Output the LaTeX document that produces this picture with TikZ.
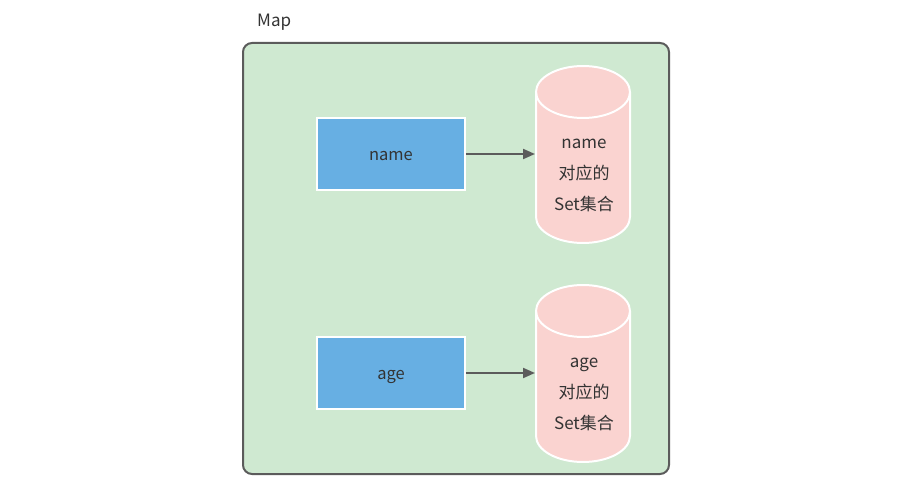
\documentclass[tikz,border=0pt]{standalone}
\usepackage{fontspec}
\setmainfont{Noto Sans CJK SC}
\usetikzlibrary{arrows.meta}
\definecolor{boxgreen}{HTML}{CFE9D1}
\definecolor{keyblue}{HTML}{67AFE3}
\definecolor{cylpink}{HTML}{FAD3D0}
\definecolor{edgegray}{HTML}{5B5B5B}
\definecolor{txt}{HTML}{333333}
\tikzset{
  container/.style={draw=edgegray, line width=2pt, fill=boxgreen, rounded corners=9pt},
  keybox/.style={draw=white, line width=1.5pt, fill=keyblue, minimum width=148pt, minimum height=72pt, inner sep=0pt, text=txt, font=\fontsize{16.5pt}{18pt}\selectfont},
  cylbody/.style={draw=white, line width=2pt, fill=cylpink},
  cyltext/.style={align=center, text=txt, font=\fontsize{17pt}{31pt}\selectfont, inner sep=0pt},
  link/.style={draw=edgegray, line width=2pt, -{Triangle[length=12pt,width=10pt]}},
  lbl/.style={text=txt, font=\fontsize{17pt}{18pt}\selectfont, inner sep=0pt}
}
\begin{document}
\begin{tikzpicture}[x=1pt,y=1pt]
\useasboundingbox (0,0) rectangle (914,491);
\node[lbl, anchor=west] (maplabel) at (257,469) {Map};
\path[container] (243,17) rectangle (669,448);
% key boxes
\node[keybox] (kname) at (391,337) {\raisebox{-7pt}[0pt][0pt]{name}};
\node[keybox] (kage) at (391,118) {\raisebox{-6.5pt}[0pt][0pt]{age}};
% cylinder 1
\path[cylbody] (536,399) -- (536,274) arc (180:360:47 and 26) -- (630,399) arc (0:180:47 and 26) -- cycle;
\draw[draw=white, line width=2pt] (536,399) arc (180:360:47 and 26);
\node[cyltext] (sname) at (584,316) {name\\对应的\\Set集合};
% cylinder 2
\path[cylbody] (536,180) -- (536,55) arc (180:360:47 and 26) -- (630,180) arc (0:180:47 and 26) -- cycle;
\draw[draw=white, line width=2pt] (536,180) arc (180:360:47 and 26);
\node[cyltext] (sage) at (584,97) {age\\对应的\\Set集合};
% arrow ends
\coordinate (cname) at (535,337);
\coordinate (cage) at (535,118);
\draw[link] (kname.east) -- (cname);
\draw[link] (kage.east) -- (cage);
\end{tikzpicture}
\end{document}
